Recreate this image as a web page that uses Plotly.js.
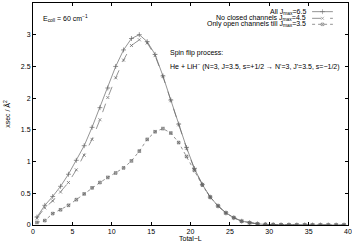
<!DOCTYPE html>
<html><head><meta charset="utf-8">
<script src="https://cdn.plot.ly/plotly-3.0.1.min.js"></script>
<style>html,body{margin:0;padding:0;background:#fff}#c{width:352px;height:245px}</style>
</head><body><div id="c"></div>
<script>
var totalL = [0.5,1.5,2.5,3.5,4.5,5.5,6.5,7.5,8.5,9.5,10.5,11.5,12.5,13.5,14.5,15.5,16.5,17.5,18.5,19.5,
              20.5,21.5,22.5,23.5,24.5,25.5,26.5,27.5,28.5,29.5,30.5,31.5,32.5,33.5,34.5,35.5,36.5,37.5,38.5,39.5];
var allJ65 = [0.125,0.31,0.45,0.61,0.80,1.02,1.25,1.54,1.85,2.16,2.50,2.76,2.94,3.00,2.89,2.69,2.35,1.97,1.59,1.22,
              0.89,0.64,0.44,0.30,0.19,0.115,0.06,0.035,0.018,0.009,0.005,0.003,0.002,0.001,0.001,0.0005,0.0005,0.0003,0.0002,0.0001];
var noClosedJ45 = [0.11,0.27,0.38,0.52,0.67,0.87,1.10,1.35,1.66,2.01,2.32,2.60,2.83,2.92,2.87,2.67,2.34,1.96,1.58,1.21,
              0.88,0.64,0.44,0.30,0.19,0.115,0.06,0.035,0.018,0.009,0.005,0.003,0.002,0.001,0.001,0.0005,0.0005,0.0003,0.0002,0.0001];
var openJ35 = [0.04,0.07,0.18,0.24,0.31,0.40,0.49,0.585,0.67,0.75,0.82,0.90,1.01,1.165,1.35,1.47,1.52,1.45,1.30,1.08,
              0.86,0.63,0.44,0.30,0.19,0.115,0.06,0.035,0.018,0.009,0.005,0.003,0.002,0.001,0.001,0.0005,0.0005,0.0003,0.0002,0.0001];
var seriesNames = ['All J<sub>max</sub>=6.5','No closed channels J<sub>max</sub>=4.5','Only open channels till J<sub>max</sub>=3.5'];
var xTicks = [0,5,10,15,20,25,30,35,40];
var yTicks = [0,0.5,1,1.5,2,2.5,3,3.5];

var FONT = 'Liberation Sans, Arial, sans-serif';
var COL = '#666';
var styles = [
  {dash:'solid', symbol:'cross-thin-open', size:3.5},
  {dash:'dash', symbol:'x-thin-open', size:3},
  {dash:'dot', symbol:'square-x-open', size:2.6}
];
var ys = [allJ65, noClosedJ45, openJ35];
var traces = [];
ys.forEach(function(v,i){
  traces.push({x:totalL, y:v, type:'scatter', mode:'lines+markers', showlegend:false,
    line:{color:COL, width:0.7, dash:styles[i].dash},
    marker:{symbol:styles[i].symbol, size:styles[i].size, color:COL, line:{color:'#444', width:0.7}}});
});
var legY = [0.961, 0.931, 0.904];
var legX = [0.886, 0.919, 0.952];
var annotations = [];
ys.forEach(function(v,i){
  traces.push({x:legX, y:[legY[i],legY[i],legY[i]], xaxis:'x2', yaxis:'y2', type:'scatter', mode:'lines+markers',
    showlegend:false, cliponaxis:false, hoverinfo:'skip',
    line:{color:COL, width:0.7, dash:styles[i].dash},
    marker:{symbol:styles[i].symbol, size:[0,styles[i].size,0], color:COL, line:{color:'#444', width:0.7}}});
  annotations.push({xref:'paper', yref:'paper', x:0.873, y:legY[i], xanchor:'right', yanchor:'middle',
    text:seriesNames[i], showarrow:false, font:{family:FONT, size:7, color:'#000'}});
});
annotations.push({xref:'paper', yref:'paper', x:0.025, y:0.928, xanchor:'left', yanchor:'middle',
  text:'E<sub>coll</sub> = 60 cm<sup>−1</sup>', showarrow:false, font:{family:FONT, size:7, color:'#000'}});
annotations.push({xref:'paper', yref:'paper', x:0.428, y:0.775, xanchor:'left', yanchor:'middle',
  text:'Spin flip process:', showarrow:false, font:{family:FONT, size:7, color:'#000'}});
annotations.push({xref:'paper', yref:'paper', x:0.428, y:0.713, xanchor:'left', yanchor:'middle',
  text:'He + LiH<sup>−</sup> (N=3, J=3.5, s=+1/2 → N\'=3, J\'=3.5, s=−1/2)', showarrow:false, font:{family:FONT, size:7, color:'#000'}});
annotations.push({xref:'paper', yref:'paper', x:-0.083, y:0.5, xanchor:'center', yanchor:'middle', textangle:-90,
  text:'xsec / Å<sup>2</sup>', showarrow:false, font:{family:FONT, size:7, color:'#000'}});
annotations.push({xref:'paper', yref:'paper', x:0.5, y:-0.062, xanchor:'center', yanchor:'middle',
  text:'Total−L', showarrow:false, font:{family:FONT, size:7, color:'#000'}});

var axBase = {showgrid:false, zeroline:false, showline:true, linecolor:'#000', linewidth:1, mirror:'allticks',
  ticks:'inside', ticklen:3, tickcolor:'#000', tickwidth:1, tickfont:{family:FONT, size:7, color:'#000'}};
var layout = {
  width:352, height:245, margin:{l:33, r:4, t:3, b:20},
  paper_bgcolor:'#fff', plot_bgcolor:'#fff',
  xaxis:Object.assign({}, axBase, {range:[0,40], tickvals:xTicks, ticktext:xTicks.map(String)}),
  yaxis:Object.assign({}, axBase, {range:[0,3.5], tickvals:yTicks, ticktext:yTicks.map(String)}),
  xaxis2:{overlaying:'x', range:[0,1], visible:false, fixedrange:true},
  yaxis2:{overlaying:'y', range:[0,1], visible:false, fixedrange:true},
  annotations:annotations
};
Plotly.newPlot('c', traces, layout, {staticPlot:true, displayModeBar:false});
</script></body></html>
